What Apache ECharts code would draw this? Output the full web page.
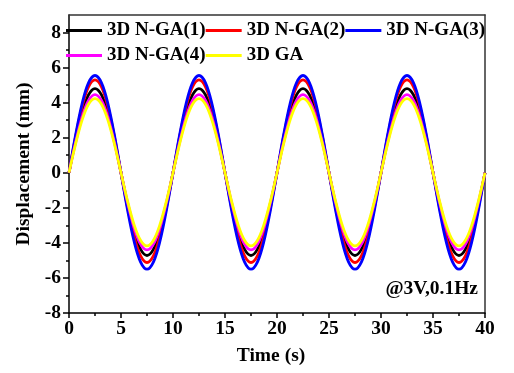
<!DOCTYPE html>
<html>
<head>
<meta charset="utf-8">
<script src="https://cdn.jsdelivr.net/npm/echarts@6/dist/echarts.min.js"></script>
<style>html,body{margin:0;padding:0;background:#fff}#c{width:514px;height:373px}</style>
</head>
<body>
<div id="c"></div>
<script>
// Time (s)
const time = [0,0.625,1.25,1.875,2.5,3.125,3.75,4.375,5,5.625,6.25,6.875,7.5,8.125,8.75,9.375,
10,10.625,11.25,11.875,12.5,13.125,13.75,14.375,15,15.625,16.25,16.875,17.5,18.125,18.75,19.375,
20,20.625,21.25,21.875,22.5,23.125,23.75,24.375,25,25.625,26.25,26.875,27.5,28.125,28.75,29.375,
30,30.625,31.25,31.875,32.5,33.125,33.75,34.375,35,35.625,36.25,36.875,37.5,38.125,38.75,39.375,40];

const seriesNames = ['3D N-GA(1)','3D N-GA(2)','3D N-GA(3)','3D N-GA(4)','3D GA'];

const nga1 = [0,1.84,3.39,4.44,4.8,4.44,3.39,1.84,0,-1.81,-3.34,-4.36,-4.72,-4.36,-3.34,-1.81,
0,1.84,3.39,4.44,4.8,4.44,3.39,1.84,0,-1.81,-3.34,-4.36,-4.72,-4.36,-3.34,-1.81,
0,1.84,3.39,4.44,4.8,4.44,3.39,1.84,0,-1.81,-3.34,-4.36,-4.72,-4.36,-3.34,-1.81,
0,1.84,3.39,4.44,4.8,4.44,3.39,1.84,0,-1.81,-3.34,-4.36,-4.72,-4.36,-3.34,-1.81,0];
const nga2 = [0,2.03,3.75,4.9,5.3,4.9,3.75,2.03,0,-1.96,-3.62,-4.73,-5.12,-4.73,-3.62,-1.96,
0,2.03,3.75,4.9,5.3,4.9,3.75,2.03,0,-1.96,-3.62,-4.73,-5.12,-4.73,-3.62,-1.96,
0,2.03,3.75,4.9,5.3,4.9,3.75,2.03,0,-1.96,-3.62,-4.73,-5.12,-4.73,-3.62,-1.96,
0,2.03,3.75,4.9,5.3,4.9,3.75,2.03,0,-1.96,-3.62,-4.73,-5.12,-4.73,-3.62,-1.96,0];
const nga3 = [0,2.12,3.92,5.13,5.55,5.13,3.92,2.12,0,-2.11,-3.89,-5.08,-5.5,-5.08,-3.89,-2.11,
0,2.12,3.92,5.13,5.55,5.13,3.92,2.12,0,-2.11,-3.89,-5.08,-5.5,-5.08,-3.89,-2.11,
0,2.12,3.92,5.13,5.55,5.13,3.92,2.12,0,-2.11,-3.89,-5.08,-5.5,-5.08,-3.89,-2.11,
0,2.12,3.92,5.13,5.55,5.13,3.92,2.12,0,-2.11,-3.89,-5.08,-5.5,-5.08,-3.89,-2.11,0];
const nga4 = [0,1.71,3.15,4.12,4.46,4.12,3.15,1.71,0,-1.68,-3.11,-4.07,-4.4,-4.07,-3.11,-1.68,
0,1.71,3.15,4.12,4.46,4.12,3.15,1.71,0,-1.68,-3.11,-4.07,-4.4,-4.07,-3.11,-1.68,
0,1.71,3.15,4.12,4.46,4.12,3.15,1.71,0,-1.68,-3.11,-4.07,-4.4,-4.07,-3.11,-1.68,
0,1.71,3.15,4.12,4.46,4.12,3.15,1.71,0,-1.68,-3.11,-4.07,-4.4,-4.07,-3.11,-1.68,0];
const ga = [0,1.62,2.99,3.91,4.23,3.91,2.99,1.62,0,-1.6,-2.95,-3.85,-4.17,-3.85,-2.95,-1.6,
0,1.62,2.99,3.91,4.23,3.91,2.99,1.62,0,-1.6,-2.95,-3.85,-4.17,-3.85,-2.95,-1.6,
0,1.62,2.99,3.91,4.23,3.91,2.99,1.62,0,-1.6,-2.95,-3.85,-4.17,-3.85,-2.95,-1.6,
0,1.62,2.99,3.91,4.23,3.91,2.99,1.62,0,-1.6,-2.95,-3.85,-4.17,-3.85,-2.95,-1.6,0];

const yMajorTicks = [-8,-6,-4,-2,0,2,4,6,8];
const yMinorTicks = [-7,-5,-3,-1,1,3,5,7];

const colors = ['#000000','#ff0000','#0000ff','#ff00ff','#ffff00'];
const values = [nga1, nga2, nga3, nga4, ga];

const FONT = '"Liberation Serif", "Times New Roman", serif';
const chart = echarts.init(document.getElementById('c'), null, {renderer: 'canvas'});

const series = values.map((v, i) => ({
  name: seriesNames[i],
  type: 'line',
  xAxisIndex: 0, yAxisIndex: 0,
  data: time.map((t, k) => [t, v[k]]),
  smooth: 0.35,
  symbol: 'none',
  lineStyle: {color: colors[i], width: 2.8},
  itemStyle: {color: colors[i]},
  z: 2 + i
}));

const legendCommon = {
  left: 66, padding: 0, itemGap: 0, itemWidth: 36, itemHeight: 3, icon: 'rect',
  textStyle: {fontFamily: FONT, fontWeight: 'bold', fontSize: 19, color: '#000'}
};

chart.setOption({
  animation: false,
  backgroundColor: '#fff',
  grid: {left: 69, right: 29, top: 15, bottom: 60, containLabel: false},
  legend: [
    Object.assign({data: seriesNames.slice(0, 3), top: 21}, legendCommon),
    Object.assign({data: seriesNames.slice(3), top: 46}, legendCommon)
  ],
  xAxis: [{
    type: 'value', min: 0, max: 40, interval: 5,
    name: 'Time (s)', nameLocation: 'middle', nameGap: 33,
    nameTextStyle: {fontFamily: FONT, fontWeight: 'bold', fontSize: 19.5, color: '#000', padding: [0, 12, 0, 0]},
    axisLine: {show: true, onZero: false, lineStyle: {color: '#000', width: 1.5}},
    axisTick: {show: true, inside: false, length: 5, lineStyle: {color: '#000', width: 1.5}},
    minorTick: {show: true, splitNumber: 2, length: 3, lineStyle: {color: '#000', width: 1.5}},
    axisLabel: {fontFamily: FONT, fontWeight: 'bold', fontSize: 19.5, color: '#000', margin: 6},
    splitLine: {show: false}
  }, {
    type: 'value', min: 0, max: 40, position: 'top',
    axisLine: {show: true, onZero: false, lineStyle: {color: '#333', width: 1.5}},
    axisTick: {show: false}, axisLabel: {show: false}, splitLine: {show: false}
  }],
  yAxis: [{
    type: 'value', min: -8, max: 9, interval: 1,
    name: 'Displacement (mm)', nameLocation: 'middle', nameGap: 34,
    nameTextStyle: {fontFamily: FONT, fontWeight: 'bold', fontSize: 19.5, color: '#000'},
    axisLine: {show: true, onZero: false, lineStyle: {color: '#000', width: 1.5}},
    axisTick: {show: true, length: 6, customValues: yMajorTicks, lineStyle: {color: '#000', width: 1.5}},
    axisLabel: {fontFamily: FONT, fontWeight: 'bold', fontSize: 19.5, color: '#000', margin: 8, customValues: yMajorTicks},
    splitLine: {show: false}
  }, {
    type: 'value', min: -8, max: 9, interval: 1, position: 'left',
    axisLine: {show: false, onZero: false},
    axisTick: {show: true, length: 3, customValues: yMinorTicks, lineStyle: {color: '#000', width: 1.5}},
    axisLabel: {show: false}, splitLine: {show: false}
  }, {
    type: 'value', min: -8, max: 9, position: 'right',
    axisLine: {show: true, onZero: false, lineStyle: {color: '#333', width: 1.5}},
    axisTick: {show: false}, axisLabel: {show: false}, splitLine: {show: false}
  }],
  graphic: [{
    type: 'text', right: 36, top: 279,
    style: {text: '@3V,0.1Hz', fontFamily: FONT, fontWeight: 'bold', fontSize: 19.5, fill: '#000'}
  }],
  series: series
});
</script>
</body>
</html>
